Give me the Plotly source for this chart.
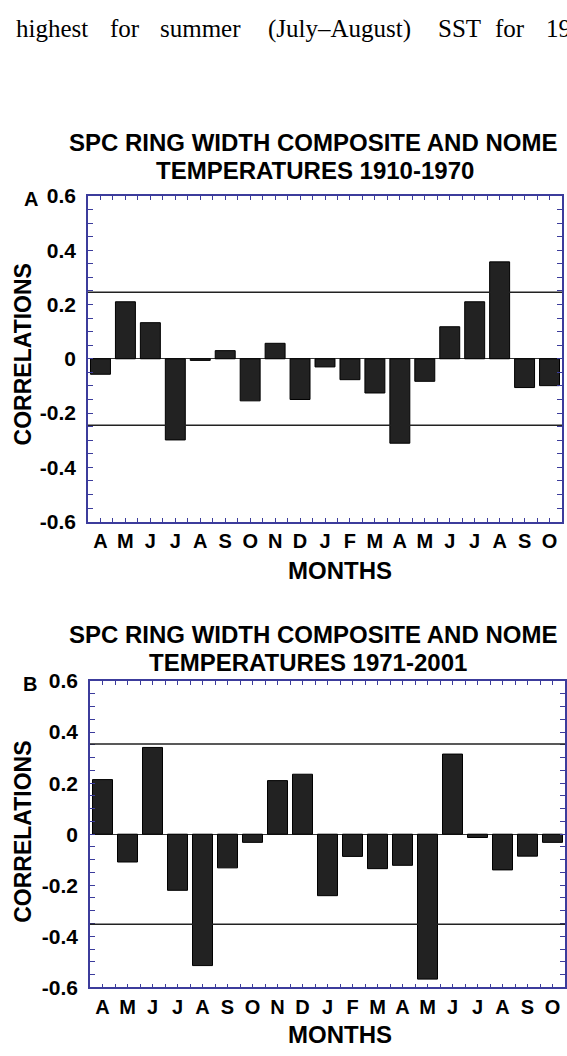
import plotly.graph_objects as go

# ---------------- data ----------------
months = ["A", "M", "J", "J", "A", "S", "O", "N", "D", "J",
          "F", "M", "A", "M", "J", "J", "A", "S", "O"]
corr_1910_1970 = [-0.057, 0.21, 0.133, -0.299, -0.006, 0.03, -0.155, 0.057, -0.15, -0.03,
                  -0.077, -0.126, -0.311, -0.083, 0.118, 0.21, 0.357, -0.106, -0.099]
corr_1971_2001 = [0.214, -0.109, 0.34, -0.22, -0.515, -0.132, -0.032, 0.21, 0.235, -0.241,
                  -0.087, -0.135, -0.122, -0.568, 0.314, -0.013, -0.14, -0.086, -0.032]
sig_1910_1970 = 0.245
sig_1971_2001 = 0.353
ytick_vals = [-0.6, -0.4, -0.2, 0, 0.2, 0.4, 0.6]
ytick_text = ["-0.6", "-0.4", "-0.2", "0", "0.2", "0.4", "0.6"]
title_a = ["SPC RING WIDTH COMPOSITE AND NOME", "TEMPERATURES 1910-1970"]
title_b = ["SPC RING WIDTH COMPOSITE AND NOME", "TEMPERATURES 1971-2001"]
top_words = ["highest", "for", "summer", "(July\u2013August)", "SST", "for", "19"]
top_word_x = [14, 108, 158, 266, 436, 493, 544]

# ---------------- layout helpers ----------------
W, H = 567, 1056
def fx(p):
    return p / W
def fy(p):
    return 1 - p / H

AXC = "#3c3c9c"
FONT = "Liberation Sans, Arial, sans-serif"
xpos = list(range(len(months)))

fig = go.Figure()
fig.add_trace(go.Bar(x=xpos, y=corr_1910_1970, xaxis="x", yaxis="y", width=0.8,
                     marker=dict(color="#222222", line=dict(color="#000000", width=1)),
                     showlegend=False))
fig.add_trace(go.Bar(x=xpos, y=corr_1971_2001, xaxis="x2", yaxis="y2", width=0.8,
                     marker=dict(color="#222222", line=dict(color="#000000", width=1)),
                     showlegend=False))

def xaxis_cfg(domain, anchor):
    return dict(domain=domain, anchor=anchor, range=[-0.5, len(months) - 0.5],
                tickmode="array", tickvals=xpos, ticktext=months,
                ticks="inside", ticklen=4, tickwidth=1, tickcolor=AXC,
                minor=dict(tick0=0.5, dtick=1, ticks="inside", ticklen=4, tickwidth=1, tickcolor=AXC),
                showline=True, linecolor=AXC, linewidth=1.5, mirror="allticks",
                showgrid=False, zeroline=False, ticklabelstandoff=1,
                tickfont=dict(family=FONT, size=20, color="black", weight="bold"))

def yaxis_cfg(domain, anchor):
    return dict(domain=domain, anchor=anchor, range=[-0.6, 0.6],
                tickmode="array", tickvals=ytick_vals, ticktext=ytick_text,
                ticks="inside", ticklen=5, tickwidth=1, tickcolor=AXC,
                minor=dict(tick0=0, dtick=0.05, ticks="inside", ticklen=5, tickwidth=1, tickcolor=AXC),
                showline=True, linecolor=AXC, linewidth=1.5, mirror="allticks",
                showgrid=False, zeroline=True, zerolinecolor="#333333", zerolinewidth=1,
                ticklabelstandoff=6,
                tickfont=dict(family=FONT, size=21, color="black", weight="bold"))

fig.update_layout(
    width=W, height=H, margin=dict(l=0, r=0, t=0, b=0),
    paper_bgcolor="white", plot_bgcolor="white", bargap=0.2,
    xaxis=xaxis_cfg([fx(88), fx(562)], "y"),
    yaxis=yaxis_cfg([fy(521), fy(188)], "x"),
    xaxis2=xaxis_cfg([fx(90), fx(565)], "y2"),
    yaxis2=yaxis_cfg([fy(997), fy(684)], "x2"),
)

shapes = []
for xr, yr, s in [("x domain", "y", sig_1910_1970), ("x2 domain", "y2", sig_1971_2001)]:
    for v in (s, -s):
        shapes.append(dict(type="line", xref=xr, yref=yr, x0=0, x1=1, y0=v, y1=v,
                           line=dict(color="#222222", width=1.5)))
fig.update_layout(shapes=shapes)

def ann(text, x, y, size, xanchor="center", angle=0, family=FONT, weight="bold"):
    return dict(text=text, x=fx(x), y=fy(y), xref="paper", yref="paper",
                xanchor=xanchor, yanchor="middle", showarrow=False, textangle=angle,
                font=dict(family=family, size=size, color="black", weight=weight))

annotations = [ann(w, x, 17, 25, xanchor="left",
                   family="Liberation Serif, Times New Roman, serif", weight="normal")
               for w, x in zip(top_words, top_word_x)]
annotations += [
    ann(title_a[0], 313, 133, 24),
    ann(title_a[1], 315, 162, 24),
    ann(title_b[0], 313, 636, 24),
    ann(title_b[1], 308, 665, 24),
    ann("A", 31, 191, 20),
    ann("B", 30, 687, 20),
    ann("CORRELATIONS", 23, 350, 23, angle=-90),
    ann("CORRELATIONS", 23, 838, 23, angle=-90),
    ann("MONTHS", 340, 571, 24),
    ann("MONTHS", 340, 1045, 24),
]
fig.update_layout(annotations=annotations)

fig.write_html("out.html", config={"responsive": False, "displayModeBar": False},
               post_script="document.body.style.margin='0px';document.body.style.overflow='hidden';")
